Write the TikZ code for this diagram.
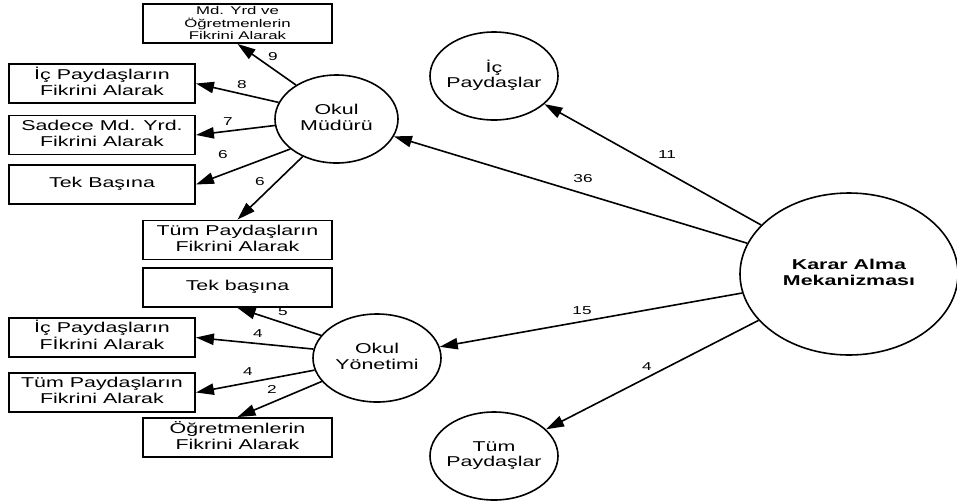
\documentclass[tikz,border=0pt]{standalone}
\usepackage{fontspec}
\setmainfont{Liberation Sans}
\usepackage{graphicx}
\usetikzlibrary{shapes.geometric,arrows.meta}

% horizontally widened text, optionally on several centred lines
\newcommand{\wtxt}[3]{\scalebox{1.5}[1]{\fontsize{#1}{#2}\selectfont\begin{tabular}{@{}c@{}}#3\end{tabular}}}
% same, but of zero width so that the ellipse keeps its own size
\newcommand{\etxt}[3]{\makebox[0pt]{\wtxt{#1}{#2}{#3}}}
\newcommand{\lbl}[1]{\scalebox{1.5}[1]{\fontsize{8.6}{9}\selectfont #1}}

\tikzset{
  box/.style={draw, line width=1.4pt, minimum width=#1, minimum height=29.25pt, inner sep=0pt},
  bubble/.style={draw, ellipse, line width=1.2pt, inner sep=0pt, minimum width=96pt, minimum height=66pt},
  edge/.style={line width=1.2pt, -{Triangle[length=13.5pt,width=8.5pt]}},
  num/.style={inner sep=0pt},
}

\begin{document}
\begin{tikzpicture}[x=0.75pt, y=-0.75pt]
\useasboundingbox[fill=white] (0,0) rectangle (957,501);

% central decision node and its four branches
\node[bubble, minimum width=163.5pt, minimum height=121.5pt] (karar) at (849,274)
  {\etxt{10.7}{12}{\textbf{Karar Alma}\\\textbf{Mekanizması}}};
\node[bubble, minimum width=92.25pt] (om) at (336.5,119) {\etxt{10.7}{12}{Okul\\Müdürü}};
\node[bubble] (icp) at (494,76) {\etxt{10.7}{11.5}{İç\\Paydaşlar}};
\node[bubble] (oy) at (377,358) {\etxt{10.7}{12}{Okul\\Yönetimi}};
\node[bubble] (tump) at (494,456) {\etxt{10.7}{11.5}{Tüm\\Paydaşlar}};

% options under Okul Müdürü (three-line text sits a little low in its box)
\node[box=141.75pt] (a1) at (237.5,23.5)
  {\raisebox{-0.9pt}[\height][\depth]{\wtxt{8.4}{8.6}{Md. Yrd ve\\Öğretmenlerin\\Fikrini Alarak}}};
\node[box=139.5pt] (a2) at (102,83.5) {\wtxt{10.7}{12}{İç Paydaşların\\Fikrini Alarak}};
\node[box=139.5pt] (a3) at (102,135) {\wtxt{10.7}{12}{Sadece Md. Yrd.\\Fikrini Alarak}};
\node[box=139.5pt] (a4) at (102,184.5) {\wtxt{10.7}{12}{Tek Başına}};
\node[box=141.75pt] (a5) at (237.5,240) {\wtxt{10.7}{12}{Tüm Paydaşların\\Fikrini Alarak}};

% options under Okul Yönetimi
\node[box=141.75pt] (b1) at (237.5,287.5) {\wtxt{10.7}{12}{Tek başına}};
\node[box=139.5pt] (b2) at (102,337.5) {\wtxt{10.7}{12}{İç Paydaşların\\Fİkrini Alarak}};
\node[box=139.5pt] (b3) at (102,392.5) {\wtxt{10.7}{12}{Tüm Paydaşların\\Fikrini Alarak}};
\node[box=141.75pt] (b4) at (237.5,437.5) {\wtxt{10.7}{12}{Öğretmenlerin\\Fikrini Alarak}};

% connectors from the central node
\draw[edge] (karar) -- (icp);
\draw[edge] (karar) -- (om);
\draw[edge] (karar) -- (oy);
\draw[edge] (karar) -- (tump);
\node[num] (n11) at (667,155) {\lbl{11}};
\node[num] (n36) at (583,179) {\lbl{36}};
\node[num] (n15) at (582,311) {\lbl{15}};
\node[num] (n4k) at (647,367) {\lbl{4}};

% connectors from Okul Müdürü
\draw[edge] (om.140.9) -- (a1.south);
\draw[edge] (om.164.4) -- (a2.east);
\draw[edge] (om.186.2) -- (a3.east);
\draw[edge] (om.213.4) -- (a4.east);
\draw[edge] (om.228) -- (a5.north);
\node[num] (m9) at (273,57) {\lbl{9}};
\node[num] (m8) at (242,85) {\lbl{8}};
\node[num] (m7) at (228,122) {\lbl{7}};
\node[num] (m6a) at (223,155) {\lbl{6}};
\node[num] (m6b) at (260,182) {\lbl{6}};

% connectors from Okul Yönetimi
\draw[edge] (oy.158.7) -- (b1.south);
\draw[edge] (oy.172) -- (b2.east);
\draw[edge] (oy.191.5) -- (b3.east);
\draw[edge] (oy.203.2) -- (b4.north);
\node[num] (y5) at (283,312) {\lbl{5}};
\node[num] (y4a) at (258,334) {\lbl{4}};
\node[num] (y4b) at (248,372) {\lbl{4}};
\node[num] (y2) at (272,389) {\lbl{2}};
\end{tikzpicture}
\end{document}
